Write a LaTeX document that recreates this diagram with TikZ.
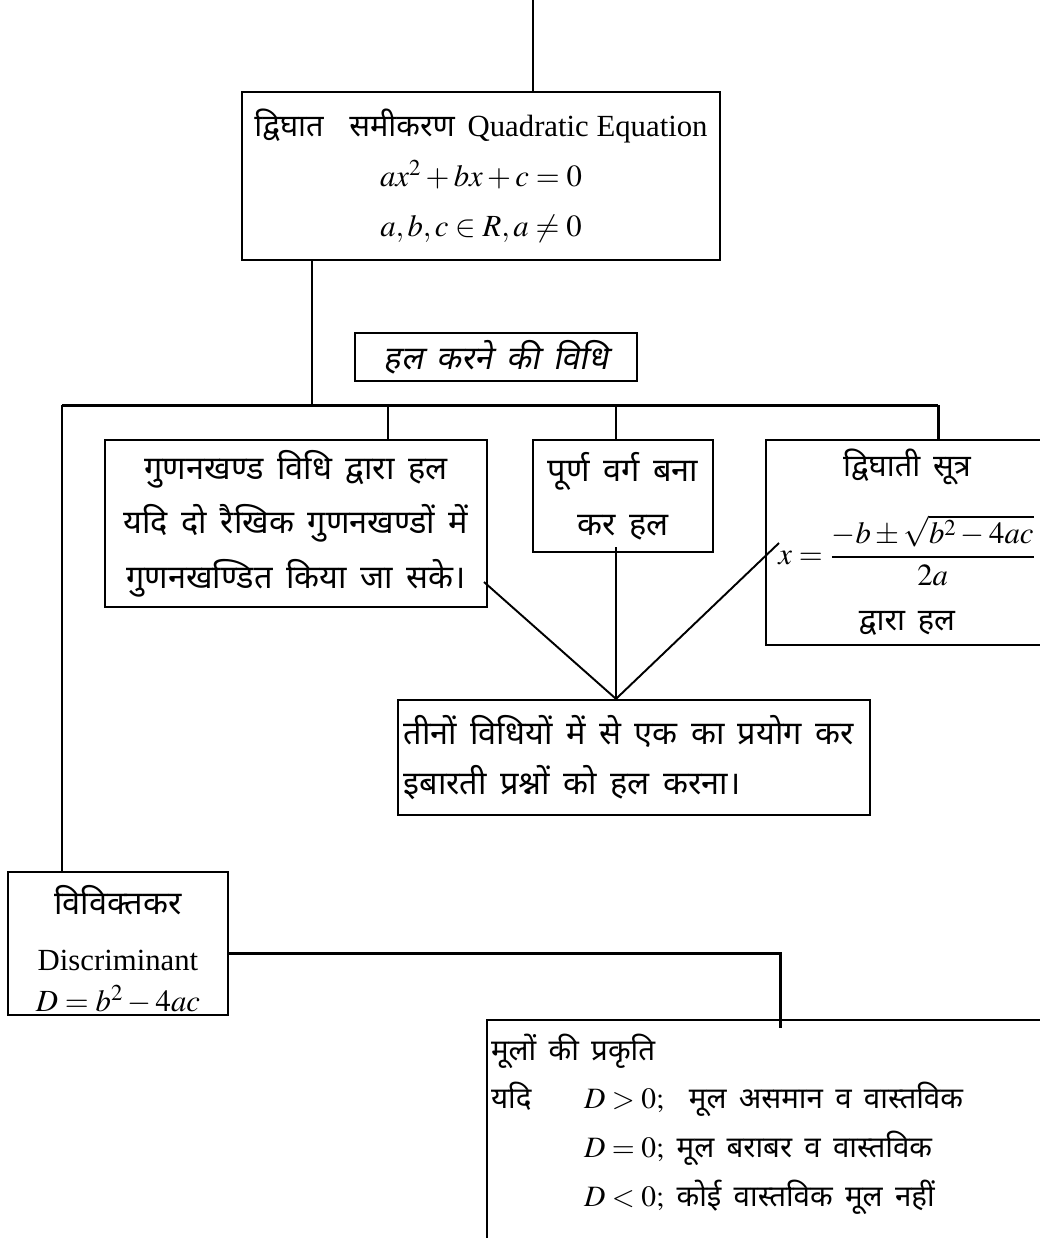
\documentclass[tikz,border=0pt]{standalone}
\usepackage{amsmath}
\usepackage{mathptmx}
\usepackage{fontspec}
\setmainfont{Liberation Serif}
\newfontfamily\hindi[Script=Devanagari,WordSpace=1.6]{Noto Sans}
\newfontfamily\hindislant[Script=Devanagari,WordSpace=1.6,FakeSlant=0.2]{Noto Sans}
\usetikzlibrary{positioning, calc}

\begin{document}
\begin{tikzpicture}[x=0.02cm, y=-0.02cm,
    box/.style={draw, line width=1.3pt, inner sep=0pt, align=center,
      font=\hindi\fontsize{18.5}{28.5}\selectfont},
    link/.style={line width=1.7pt},
    slim/.style={line width=1.1pt}]
    \useasboundingbox (0,0) rectangle (1040,1238);

    % main box
    \node[box, minimum width=9.56cm, minimum height=3.36cm, font=\hindi\fontsize{17.5}{28.5}\selectfont] (quad) at (481,176)
      {द्विघात\ \ समीकरण {\rmfamily Quadratic Equation}\\ $ax^2+bx+c=0$\\ $a,b,c\in R, a\neq 0$};
    \node[box, line width=1pt, minimum width=5.64cm, minimum height=0.96cm, font=\hindislant\fontsize{18.5}{28.5}\selectfont] (method) at (496,357)
      {हल करने की विधि};

    % the three methods
    \node[box, minimum width=7.64cm, minimum height=3.34cm, font=\hindi\fontsize{18.5}{31}\selectfont] (factor) at (296,523.5)
      {गुणनखण्ड विधि द्वारा हल\\ यदि दो रैखिक गुणनखण्डों में\\ गुणनखण्डित किया जा सके।};
    \node[box, minimum width=3.6cm, minimum height=2.24cm, font=\hindi\fontsize{18.5}{31}\selectfont] (square) at (623,496)
      {पूर्ण वर्ग बना\\ कर हल};
    \node[box, minimum width=5.64cm, minimum height=4.1cm, font=\hindi\fontsize{17.5}{28.5}\selectfont] (formula) at (907,542.5)
      {द्विघाती सूत्र\\[16pt] $x=\dfrac{-b\pm\sqrt{b^2-4ac}}{2a}$\\[9pt] द्वारा हल};
    \node[box, minimum width=9.44cm, minimum height=2.3cm] (all) at (634,757.5)
      {\makebox[9.36cm][l]{\hspace*{2pt}तीनों विधियों में से एक का प्रयोग कर}\\
       \makebox[9.36cm][l]{\hspace*{2pt}इबारती प्रश्नों को हल करना।}};

    % discriminant
    \node[box, minimum width=4.4cm, minimum height=2.86cm] (disc) at (118,943.5)
      {\parbox[c][2.86cm][t]{4.4cm}{\centering\fontsize{17.5}{31.9}\selectfont
        \rule{0pt}{0.85cm}{\fontsize{18.5}{31.9}\selectfont विविक्तकर}\\ {\rmfamily Discriminant}\\[-8.6pt] $D=b^2-4ac$}};
    \node[box, minimum width=11.26cm, minimum height=4.6cm, align=left] (nature) at (768.5,1135)
      {\parbox[c][4.6cm][t]{11.1cm}{\fontsize{16.8}{27.8}\selectfont
        \rule{0pt}{0.8cm}मूलों की प्रकृति\\
        \makebox[1.86cm][l]{यदि}$D>0;$\ \ मूल असमान व वास्तविक\\
        \hspace*{1.86cm}$D=0;$\ मूल बराबर व वास्तविक\\
        \hspace*{1.86cm}$D<0;$\ कोई वास्तविक मूल नहीं}};

    % connectors
    \coordinate (top) at (533,0);
    \coordinate (trunk) at (312,405);
    \coordinate (busL) at (62,405);
    \coordinate (busR) at (938,405);
    \draw[link] (top) -- (top |- quad.north);
    \draw[link] (trunk |- quad.south) -- (trunk);
    \draw[link] (busL) -- (busR);
    \draw[link] (busL) -- (busL |- disc.north);
    \foreach \x/\b in {388/factor, 616/square, 938/formula}
      \draw[link] (\x,405) -- (\x,405 |- \b.north);

    % lines to the applied problems
    \coordinate (f1) at (484,582);
    \coordinate (s1) at (616,547);
    \coordinate (q1) at (779,543);
    \coordinate (apex) at (s1 |- all.north);
    \foreach \c in {f1, s1, q1}
      \draw[slim] (apex) -- (\c);

    % discriminant to nature of roots
    \coordinate (turn) at (780,953);
    \draw[link] (disc.east |- turn) -- (turn) -- ([yshift=-5]turn |- nature.north);
\end{tikzpicture}
\end{document}
